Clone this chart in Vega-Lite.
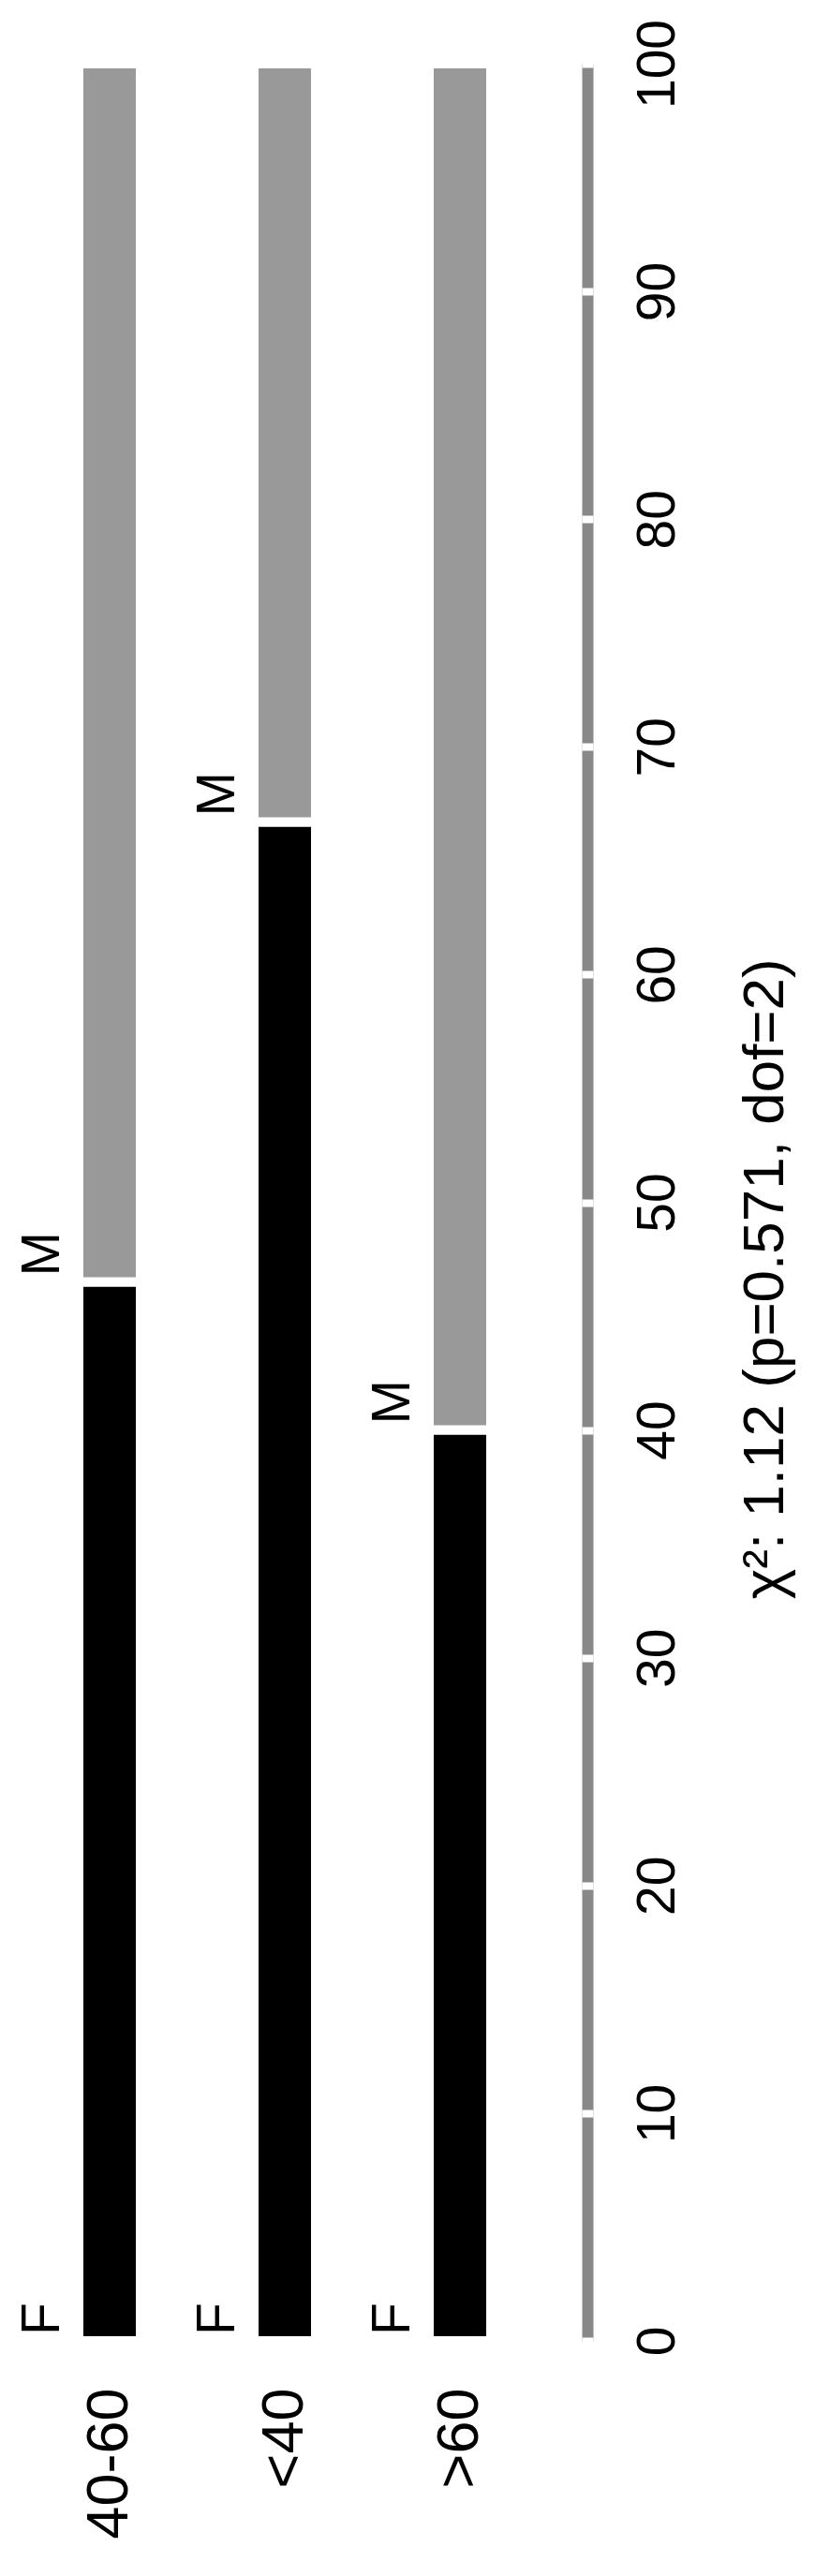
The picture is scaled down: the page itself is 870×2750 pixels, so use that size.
{
  "$schema": "https://vega.github.io/schema/vega-lite/v6.json",
  "width": 608,
  "height": 2431,
  "autosize": {"type": "none"},
  "padding": {"left": 0, "top": 68, "right": 262, "bottom": 251},
  "background": "white",
  "title": {
    "text": "χ²: 1.12 (p=0.571, dof=2)",
    "orient": "right",
    "anchor": "middle",
    "frame": "bounds",
    "angle": 270,
    "baseline": "top",
    "offset": -5,
    "fontSize": 62,
    "fontWeight": "normal",
    "font": "Liberation Sans",
    "color": "black"
  },
  "data": {
    "values": [
      {"age": "40-60", "sex": "F", "pct": 46.5},
      {"age": "40-60", "sex": "M", "pct": 53.5},
      {"age": "<40", "sex": "F", "pct": 66.7},
      {"age": "<40", "sex": "M", "pct": 33.3},
      {"age": ">60", "sex": "F", "pct": 40.0},
      {"age": ">60", "sex": "M", "pct": 60.0}
    ]
  },
  "transform": [
    {
      "stack": "pct",
      "groupby": ["age"],
      "sort": [{"field": "sex", "order": "ascending"}],
      "as": ["y0", "y1"]
    }
  ],
  "encoding": {
    "x": {
      "field": "age",
      "type": "nominal",
      "sort": ["40-60", "<40", ">60"],
      "scale": {"paddingInner": 0.647, "paddingOuter": 0.449},
      "axis": {
        "orient": "bottom",
        "domain": false,
        "ticks": false,
        "tickSize": 0,
        "labelAngle": 270,
        "labelAlign": "right",
        "labelBaseline": "middle",
        "labelPadding": 50,
        "labelFontSize": 63,
        "labelFont": "Liberation Sans",
        "labelColor": "black",
        "title": null
      }
    }
  },
  "layer": [
    {
      "mark": {"type": "bar", "stroke": "white", "strokeWidth": 10},
      "encoding": {
        "y": {
          "field": "y0",
          "type": "quantitative",
          "scale": {"domain": [0, 100], "nice": false},
          "axis": {
            "orient": "right",
            "offset": 19,
            "domainColor": "#888888",
            "domainWidth": 12,
            "domainCap": "butt",
            "ticks": false,
            "labels": false,
            "grid": false,
            "title": null
          }
        },
        "y2": {"field": "y1"},
        "color": {
          "field": "sex",
          "type": "nominal",
          "scale": {"domain": ["F", "M"], "range": ["#000000", "#999999"]},
          "legend": null
        }
      }
    },
    {
      "mark": {
        "type": "text",
        "angle": 270,
        "align": "left",
        "baseline": "alphabetic",
        "dx": 6,
        "dy": -54,
        "fontSize": 57,
        "font": "Liberation Sans",
        "color": "black"
      },
      "encoding": {
        "y": {
          "field": "y0",
          "type": "quantitative",
          "axis": {
            "orient": "right",
            "offset": 13,
            "domain": false,
            "ticks": true,
            "tickColor": "white",
            "tickSize": 12,
            "tickWidth": 8,
            "tickCount": 10,
            "labelAngle": 270,
            "labelAlign": "center",
            "labelBaseline": "top",
            "labelPadding": 41,
            "labelFontSize": 57,
            "labelFont": "Liberation Sans",
            "labelColor": "black",
            "grid": false,
            "title": null
          }
        },
        "text": {"field": "sex"}
      }
    }
  ],
  "resolve": {"axis": {"y": "independent"}},
  "config": {"view": {"stroke": null}}
}
